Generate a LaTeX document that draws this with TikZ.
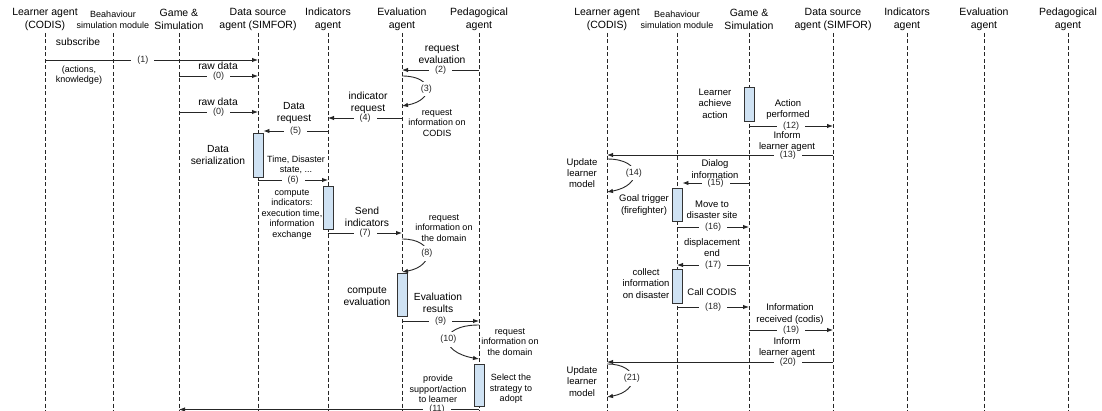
\documentclass[tikz,border=0pt]{standalone}
\usepackage{fontspec}
\setmainfont{Liberation Sans}
\usetikzlibrary{arrows.meta}

\definecolor{actfill}{HTML}{CFE2F3}
\newcommand{\hdfont}{\fontsize{10.5}{13}\selectfont}
\newcommand{\bhfont}{\fontsize{9}{11}\selectfont}
\newcommand{\lbfont}{\fontsize{10.3}{12}\selectfont}
\newcommand{\smlfont}{\fontsize{9}{10.5}\selectfont}
\newcommand{\rtfont}{\fontsize{9.5}{11.3}\selectfont}
\newcommand{\nrfont}{\fontsize{9}{10}\selectfont}

\begin{document}
\begin{tikzpicture}[x=1pt, y=-1pt,
	actor/.style={align=center, font=\hdfont, inner sep=0pt},
	lifeline/.style={black!85, line width=0.9pt, dash pattern=on 4pt off 2.5pt},
	msg/.style={black!85, line width=0.9pt, -{Latex[length=6pt,width=4.5pt]}},
	num/.style={fill=white, font=\nrfont, inner xsep=6pt, inner ysep=0pt},
	loopnum/.style={fill=white, font=\nrfont, inner xsep=1pt, inner ysep=3pt},
	actbox/.style={draw=black!80, fill=actfill, line width=0.9pt, minimum width=10pt, inner sep=0pt},
	lbl/.style={align=center, font=\lbfont, inner sep=0pt},
	sml/.style={align=center, font=\smlfont, inner sep=0pt},
	rtl/.style={align=center, font=\rtfont, inner sep=0pt}]
	\useasboundingbox (0,0) rectangle (1102,411);
	\clip (0,0) rectangle (1102,411);
	% participants and lifelines, left and right diagram
	\foreach \nm/\xa/\xb/\fnt/\txt in {
		lrn/45/607/\hdfont/{Learner agent\\(CODIS)},
		bhv/113/677/\bhfont/{Beahaviour\\simulation module},
		game/179/749/\hdfont/{Game \&\\Simulation},
		src/258/833/\hdfont/{Data source\\agent (SIMFOR)},
		ind/328/907/\hdfont/{Indicators\\agent},
		eval/402/984/\hdfont/{Evaluation\\agent},
		ped/479/1068/\hdfont/{Pedagogical\\agent}}{
		\node[actor, font=\fnt] (\nm L) at (\xa,19.5) {\txt};
		\node[actor, font=\fnt] (\nm R) at (\xb,19.5) {\txt};
		\draw[lifeline] (\nm L |- 0,33) -- (\nm L |- 0,416);
		\draw[lifeline] (\nm R |- 0,33) -- (\nm R |- 0,416);
	}
	% activation boxes
	\node[actbox, minimum height=44pt] (srcBox) at (258,155) {};
	\node[actbox, minimum height=43pt] (indBox) at (328,207.5) {};
	\node[actbox, minimum height=43pt] (evalBox) at (402,294.5) {};
	\node[actbox, minimum height=42pt] (pedBox) at (479,385) {};
	\node[actbox, minimum height=34pt] (gameBox) at (749,104) {};
	\node[actbox, minimum height=33pt] (bhvBoxA) at (677,204.5) {};
	\node[actbox, minimum height=34pt] (bhvBoxB) at (677,286) {};

	% left diagram
	\draw[msg] (lrnL |- 0,60) -- node[num, pos=0.46] (n1) {(1)} (srcL |- 0,60);
	\node[lbl] (t1) at (78,42) {subscribe};
	\node[sml] (t1b) at (79,75) {(actions,\\knowledge)};
	\draw[msg] (gameL |- 0,76) -- node[num] (n0a) {(0)} (srcL |- 0,76);
	\node[lbl] (t0a) at (218,66) {raw data};
	\draw[msg] (gameL |- 0,112) -- node[num] (n0b) {(0)} (srcL |- 0,112);
	\node[lbl] (t0b) at (218,102) {raw data};
	\draw[msg] (pedL |- 0,70) -- node[num] (n2) {(2)} (evalL |- 0,70);
	\node[lbl] (t2) at (442,54) {request\\evaluation};
	\draw[msg] (evalL |- 0,76) to[out=0, in=10, looseness=2.8] node[loopnum] (n3) {(3)} (evalL |- 0,106);
	\draw[msg] (evalL |- 0,118) -- node[num] (n4) {(4)} (indL |- 0,118);
	\node[lbl] (t4) at (368,103) {indicator\\request};
	\node[sml] (t4b) at (437,123) {request\\information on\\CODIS};
	\draw[msg] (indL |- 0,131) -- node[num] (n5) {(5)} (srcBox.east |- 0,131);
	\node[lbl] (t5) at (294,113) {Data\\request};
	\node[lbl] (tser) at (218,155) {Data\\serialization};
	\node[sml] (t6) at (296,165) {Time, Disaster\\state, ...};
	\draw[msg] (srcL |- 0,180) -- node[num] (n6) {(6)} (indL |- 0,180);
	\node[sml] (tind) at (292,214.5) {compute\\indicators:\\execution time,\\information\\exchange};
	\draw[msg] (indL |- 0,233) -- node[num] (n7) {(7)} (evalL |- 0,233);
	\node[lbl] (t7) at (367,217) {Send\\indicators};
	\node[sml] (t8b) at (444,228) {request\\information on\\the domain};
	\draw[msg] (evalL |- 0,239) to[out=0, in=10, looseness=2.6] node[loopnum] (n8) {(8)} (evalL |- 0,272);
	\node[lbl] (tev) at (367,296) {compute\\evaluation};
	\draw[msg] (evalL |- 0,321) -- node[num] (n9) {(9)} (pedL |- 0,321);
	\node[lbl] (t9) at (438,303) {Evaluation\\results};
	\draw[msg] (pedL |- 0,325) to[out=180, in=170, looseness=3.1] node[loopnum] (n10) {(10)} (pedL |- 0,359);
	\node[sml] (t10b) at (510,342) {request\\information on\\the domain};
	\node[sml] (tsel) at (511,389) {Select the\\strategy to\\adopt};
	\node[sml] (t11) at (438,389) {provide\\support/action\\to learner};
	\draw[msg] (pedL |- 0,409.5) -- node[num, pos=0.14] (n11) {(11)} (gameL |- 0,409.5);

	% right diagram
	\node[rtl] (tach) at (715,103.5) {Learner\\achieve\\action};
	\draw[msg] (gameR |- 0,126) -- node[num] (n12) {(12)} (srcR |- 0,126);
	\node[rtl] (t12) at (788,109.5) {Action\\performed};
	\draw[msg] (srcR |- 0,155) -- node[num, pos=0.2] (n13) {(13)} (lrnR |- 0,155);
	\node[rtl] (t13) at (787,141.5) {Inform\\learner agent};
	\draw[msg] (lrnR |- 0,159) to[out=0, in=10, looseness=2.8] node[loopnum] (n14) {(14)} (lrnR |- 0,192);
	\node[rtl] (t14) at (582,173) {Update\\learner\\model};
	\draw[msg] (gameR |- 0,183) -- node[num] (n15) {(15)} (bhvBoxA.east |- 0,183);
	\node[rtl] (t15) at (715,169) {Dialog\\information};
	\node[rtl] (tgoal) at (644,205) {Goal trigger\\(firefighter)};
	\draw[msg] (bhvR |- 0,227) -- node[num] (n16) {(16)} (gameR |- 0,227);
	\node[rtl] (t16) at (712,210) {Move to\\disaster site};
	\draw[msg] (gameR |- 0,265) -- node[num] (n17) {(17)} (bhvR |- 0,265);
	\node[rtl] (t17) at (712,247.5) {displacement\\end};
	\node[rtl] (tcol) at (646,283.5) {collect\\information\\on disaster};
	\draw[msg] (bhvR |- 0,307) -- node[num] (n18) {(18)} (gameR |- 0,307);
	\node[rtl] (t18) at (712,292) {Call CODIS};
	\draw[msg] (gameR |- 0,330) -- node[num] (n19) {(19)} (srcR |- 0,330);
	\node[rtl] (t19) at (790,314) {Information\\received (codis)};
	\draw[msg] (srcR |- 0,362) -- node[num, pos=0.2] (n20) {(20)} (lrnR |- 0,362);
	\node[rtl] (t20) at (787,347.5) {Inform\\learner agent};
	\draw[msg] (lrnR |- 0,364) to[out=0, in=10, looseness=2.6] node[loopnum] (n21) {(21)} (lrnR |- 0,397);
	\node[rtl] (t21) at (582,381.5) {Update\\learner\\model};
\end{tikzpicture}
\end{document}
